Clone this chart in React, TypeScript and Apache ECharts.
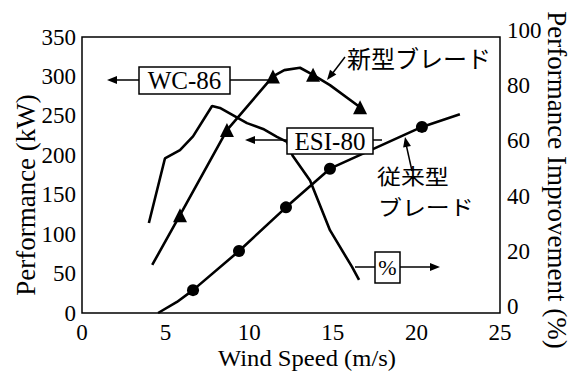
import React, { useEffect, useRef } from "react";
import * as echarts from "echarts";

// ---- data ----
const xTicks = [0, 5, 10, 15, 20, 25];
const kwTicks = [0, 50, 100, 150, 200, 250, 300, 350];
const pctTicks = [0, 20, 40, 60, 80, 100];

// 新型ブレード (WC-86), triangles, kW
const newBladeX = [4.2, 5.86, 8.67, 11.42, 12.1, 13.04, 13.82, 14.83, 16.63];
const newBladeKW = [61, 124, 232, 300, 308, 311, 302, 289, 261];
const newBladeMarked = [false, true, true, true, false, false, true, false, true];

// 従来型ブレード (ESI-80), circles, kW
const convX = [4.55, 5.68, 6.64, 9.39, 12.2, 14.83, 20.33, 22.6];
const convKW = [0, 14, 29, 78.6, 134, 183, 236, 252];
const convMarked = [false, false, true, true, true, true, true, false];

// Performance improvement (%), right axis
const pctX = [4.0, 4.96, 5.86, 6.64, 7.78, 8.25, 9.87, 10.83, 11.66, 12.26, 12.6, 13.64, 14.83, 16.15, 16.57];
const pctVal = [32.6, 56, 59, 64, 75, 74.3, 68.8, 66.7, 63.8, 62, 57, 48, 30, 16.7, 12];

const SERIF = "'Liberation Serif', 'DejaVu Serif', serif";
const JP = "'Noto Sans CJK JP', sans-serif";

function arrowHead(fx: number, fy: number, tx: number, ty: number, len = 10, half = 4) {
  const dx = tx - fx;
  const dy = ty - fy;
  const d = Math.sqrt(dx * dx + dy * dy);
  const ux = dx / d;
  const uy = dy / d;
  const bx = tx - ux * len;
  const by = ty - uy * len;
  return {
    type: "polygon",
    z: 100,
    shape: { points: [[tx, ty], [bx - uy * half, by + ux * half], [bx + uy * half, by - ux * half]] },
    style: { fill: "#000" },
  };
}
function ln(x1: number, y1: number, x2: number, y2: number) {
  return { type: "line", z: 100, shape: { x1, y1, x2, y2 }, style: { stroke: "#000", lineWidth: 1.5 } };
}
function box(x: number, y: number, w: number, h: number, text: string, fs: number) {
  return [
    { type: "rect", z: 100, shape: { x, y, width: w, height: h }, style: { fill: "#fff", stroke: "#000", lineWidth: 1.5 } },
    {
      type: "text", z: 101, x: x + w / 2, y: y + h / 2,
      style: { text, fontSize: fs, fontFamily: SERIF, fill: "#000", align: "center", verticalAlign: "middle" },
    },
  ];
}
function txt(x: number, y: number, text: string, fs: number, family: string, align = "left", rotation = 0, scaleX = 1) {
  return {
    type: "text", z: 101, x, y, rotation, scaleX,
    style: { text, fontSize: fs, fontFamily: family, fill: "#000", align, verticalAlign: "middle" },
  };
}

export default function App() {
  const ref = useRef<HTMLDivElement>(null);
  useEffect(() => {
    if (!ref.current) return;
    const chart = echarts.init(ref.current, undefined, { renderer: "svg" });
    const axisLabel = { color: "#000", fontSize: 23, fontFamily: SERIF };
    const lineStyle = { color: "#000", width: 2.6 };
    const graphic: any[] = [
      // WC-86 annotation
      ln(230, 80, 268, 80),
      ln(139, 80, 116, 80),
      arrowHead(139, 80, 107, 80),
      ...box(139, 67, 91, 27, "WC-86", 25),
      // ESI-80 annotation
      ln(373, 140, 382, 140),
      ln(287, 140, 253, 140),
      arrowHead(287, 140, 245, 140),
      ...box(287, 128, 86, 26, "ESI-80", 25),
      // % annotation
      ln(355, 267, 375, 267),
      ln(400, 267, 432, 267),
      arrowHead(400, 267, 440, 267),
      ...box(375, 252, 25, 31, "%", 22),
      // Japanese labels
      txt(347, 57, "新型ブレード", 24, JP),
      ln(345, 57, 332, 74),
      arrowHead(345, 57, 327, 80),
      txt(377, 175, "従来型", 21, JP, "left", 0, 1.14),
      txt(378, 206, "ブレード", 21, JP, "left", 0, 1.14),
      ln(412, 171, 406, 144),
      arrowHead(412, 171, 405, 137),
      // axis titles
      txt(307, 358, "Wind Speed (m/s)", 23, SERIF, "center", 0, 1.07),
      txt(26, 195, "Performance (kW)", 27, SERIF, "center", Math.PI / 2),
      txt(557, 180, "Performance Improvement (%)", 27, SERIF, "center", -Math.PI / 2),
    ];
    chart.setOption({
      animation: false,
      backgroundColor: "#fff",
      grid: { left: 82, right: 79, top: 37, bottom: 58, show: true, borderColor: "#000", borderWidth: 1.5 },
      xAxis: {
        type: "value", min: xTicks[0], max: xTicks[xTicks.length - 1], interval: 5,
        axisLine: { show: false }, axisTick: { show: false }, splitLine: { show: false },
        axisLabel: { ...axisLabel, margin: 13.5, lineHeight: 11 },
      },
      yAxis: [
        {
          type: "value", min: kwTicks[0], max: kwTicks[kwTicks.length - 1], interval: 50,
          axisLine: { show: false }, axisTick: { show: false }, splitLine: { show: false },
          axisLabel: { ...axisLabel, margin: 6 },
        },
        {
          type: "value", min: pctTicks[0], max: pctTicks[pctTicks.length - 1], interval: 20,
          axisLine: { show: false }, axisTick: { show: false }, splitLine: { show: false },
          axisLabel: { ...axisLabel, margin: 7, lineHeight: 13, verticalAlign: "bottom" },
        },
      ],
      series: [
        {
          type: "line", yAxisIndex: 0, lineStyle, itemStyle: { color: "#000" }, symbol: "triangle", symbolSize: 14,
          data: newBladeX.map((x, i) => ({ value: [x, newBladeKW[i]], symbol: newBladeMarked[i] ? "triangle" : "none" })),
        },
        {
          type: "line", yAxisIndex: 0, lineStyle, itemStyle: { color: "#000" }, symbol: "circle", symbolSize: 12,
          data: convX.map((x, i) => ({ value: [x, convKW[i]], symbol: convMarked[i] ? "circle" : "none" })),
        },
        {
          type: "line", yAxisIndex: 1, lineStyle, itemStyle: { color: "#000" }, symbol: "none",
          data: pctX.map((x, i) => [x, pctVal[i]]),
        },
      ],
      graphic,
    });
    return () => chart.dispose();
  }, []);
  return (
    <div
      ref={ref}
      style={{ position: "fixed", left: 0, top: 0, width: 579, height: 371, background: "#fff" }}
    />
  );
}
